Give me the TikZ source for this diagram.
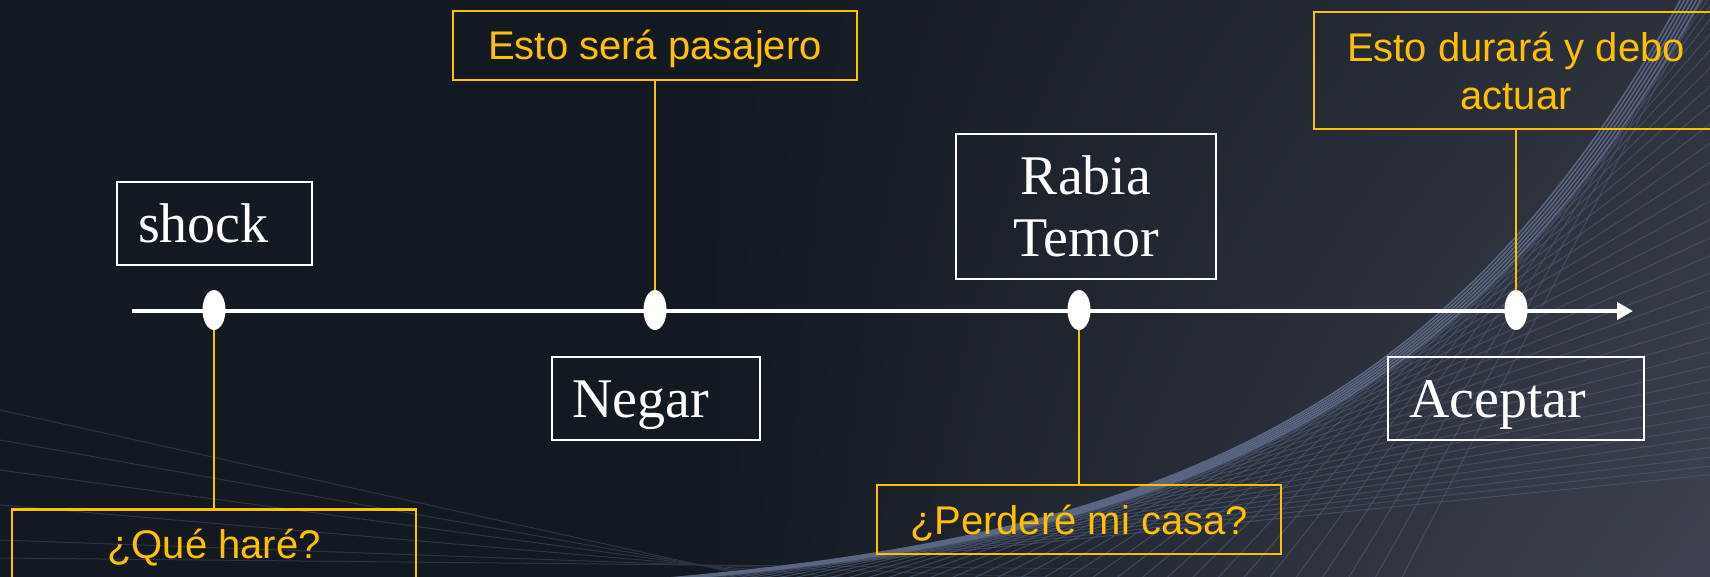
\documentclass[tikz,border=0pt]{standalone}
\usepackage{fontspec}
\newfontfamily\serifw{Liberation Serif}
\newfontfamily\sansy{Liberation Sans}
\usetikzlibrary{shapes.geometric,arrows.meta,shadings}
\definecolor{bgdark}{HTML}{131920}
\definecolor{bgtr}{HTML}{2C313C}
\definecolor{bgbr}{HTML}{3F4351}
\definecolor{mesh}{HTML}{4B5770}
\definecolor{meshhi}{HTML}{5A6682}
\definecolor{gold}{HTML}{FFC000}
\begin{document}
\begin{tikzpicture}[x=0.5pt,y=-0.5pt,
  wbox/.style={draw=white, line width=1pt, font=\serifw\fontsize{28}{31}\selectfont, text=white, inner xsep=10.5pt, inner ysep=0pt, align=left, text height=19pt, text depth=0pt, minimum height=41.5pt},
  ybox/.style={draw=gold, line width=1pt, font=\sansy\fontsize{20}{24}\selectfont, text=gold, minimum width=202pt, minimum height=34.5pt, inner sep=0pt, align=center},
  oneline/.style={text height=14.5pt, text depth=0pt},
  dot/.style={ellipse, fill=white, minimum width=11.5pt, minimum height=20pt, inner sep=0pt},
  conn/.style={draw=gold, line width=1pt},
  timeaxis/.style={draw=white, line width=2pt, -{Triangle[length=8pt,width=8.5pt]}},
  meshline/.style={draw=mesh, line width=0.5pt}]

\useasboundingbox (0,0) rectangle (1710,577);
\begin{scope}
\clip (0,0) rectangle (1710,577);
\fill[bgdark] (0,0) rectangle (1710,577);
\shade[upper left=bgdark, lower left=bgdark, upper right=bgtr, lower right=bgbr] (700,0) rectangle (1710,577);
% faint lines on the left
\foreach \yl in {410,440,470,505,540,558} {
  \pgfmathsetmacro\ye{\yl+(565-\yl)/700*1100}
  \draw[draw=mesh!45!bgdark, line width=0.5pt] (0,\yl) -- (1100,\ye);
}
% tangent mesh
\foreach \xo in {740,768,...,1720} {
  \pgfmathsetmacro\ee{exp(0.003*(\xo-700))}
  \pgfmathsetmacro\yo{577-30*(\ee-1)}
  \pgfmathsetmacro\mm{-0.09*\ee}
  \pgfmathsetmacro\xb{\xo+(600-\yo)/\mm}
  \pgfmathsetmacro\ye{\yo+\mm*(1720-\xo)}
  \draw[meshline, opacity=0.7] (\xb,600) -- (1720,\ye);
}
% envelope bundle
\foreach \d in {0,4,8,12,16,20} {
  \draw[draw=meshhi, line width=0.8pt] plot[domain=500:1720, samples=80] (\x, {577-30*(exp(0.003*(\x-700+\d))-1)});
}
\end{scope}

% time axis
\coordinate (a0) at (132,311);
\coordinate (a1) at (1633,311);
\draw[timeaxis] (a0) -- (a1);

\node[dot] (d1) at (214,310) {};
\node[dot] (d2) at (655,310) {};
\node[dot] (d3) at (1079,310) {};
\node[dot] (d4) at (1516,310) {};

% white boxes
\node[wbox, text width=76.5pt] (shock) at (214.5,223.5) {shock};
\node[wbox, text width=83pt] (negar) at (655.5,398.5) {Negar};
\node[wbox, text width=107pt] (aceptar) at (1516,398.5) {Aceptar};
\node[draw=white, line width=1pt, font=\serifw\fontsize{28}{31}\selectfont, text=white, align=center, minimum width=130pt, minimum height=72.5pt, inner sep=0pt] (rabia) at (1086,206.5) {Rabia\\Temor};

% yellow boxes
\node[ybox, oneline] (pasa) at (655,45.5) {Esto será pasajero};
\node[ybox, oneline] (que) at (214,544) {¿Qué haré?};
\node[ybox, oneline] (perd) at (1079,519.5) {¿Perderé mi casa?};
\node[ybox, minimum height=58.5pt] (dura) at (1516,70.5) {Esto durará y debo\\actuar};

% connectors
\draw[conn] (d1.south) -- (que.north);
\draw[conn] (pasa.south) -- (d2.north);
\draw[conn] (d3.south) -- (perd.north);
\draw[conn] (dura.south) -- (d4.north);
\end{tikzpicture}
\end{document}
